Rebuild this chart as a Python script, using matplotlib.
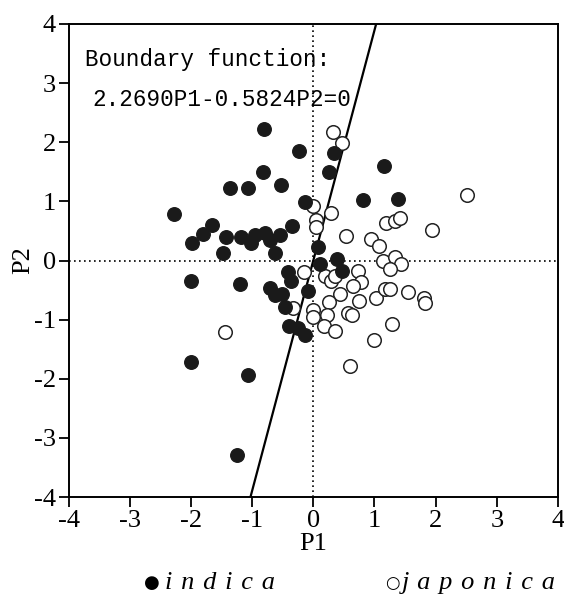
import matplotlib
matplotlib.use("Agg")
import matplotlib.pyplot as plt

# indica (filled) scores
indica_p1 = [-0.80, -0.23, 0.34, -0.83, 0.26, -1.36, -1.07, -0.52, -0.14, -2.28,
             -1.65, -1.81, -1.99, -1.43, -1.18, -1.01, -0.95, -0.79, -0.70, -0.55,
             -0.35, -1.47, -0.63, 0.07, 0.38, 0.11, 0.47, -2.00, -1.20, -0.42,
             -0.36, -0.70, -0.62, -0.51, -0.09, -0.47, -0.39, -0.25, -0.14, -2.00,
             -1.06, -1.25, 1.16, 0.81, 1.38]
indica_p2 = [2.22, 1.86, 1.82, 1.49, 1.50, 1.22, 1.22, 1.28, 0.99, 0.79,
             0.60, 0.44, 0.30, 0.40, 0.40, 0.29, 0.43, 0.47, 0.35, 0.43,
             0.59, 0.13, 0.13, 0.22, 0.02, -0.06, -0.18, -0.35, -0.39, -0.20,
             -0.35, -0.47, -0.58, -0.56, -0.52, -0.79, -1.10, -1.15, -1.26, -1.72,
             -1.94, -3.29, 1.59, 1.02, 1.04]

# japonica (open) scores
japonica_p1 = [0.33, 0.47, 0.00, 0.29, 0.04, 0.04, 0.54, 1.18, 1.33, 1.42,
               2.51, 1.94, 0.94, 1.07, 1.14, 1.34, 1.44, 1.26, -0.16, 0.19,
               0.29, 0.36, 0.73, 0.78, 0.65, 0.44, 0.26, 0.74, 1.03, 1.17,
               1.26, 1.54, 1.81, 1.83, -0.33, 0.00, 0.00, 0.23, 0.17, 0.35,
               0.57, 0.64, 1.29, 0.99, 0.60, -1.44]
japonica_p2 = [2.18, 1.98, 0.93, 0.80, 0.69, 0.56, 0.41, 0.63, 0.67, 0.72,
               1.10, 0.51, 0.36, 0.25, 0.00, 0.06, -0.06, -0.15, -0.19, -0.27,
               -0.34, -0.26, -0.18, -0.36, -0.43, -0.57, -0.70, -0.69, -0.63, -0.48,
               -0.49, -0.54, -0.64, -0.72, -0.81, -0.83, -0.95, -0.92, -1.11, -1.19,
               -0.89, -0.92, -1.07, -1.35, -1.79, -1.21]

# boundary: 2.2690*P1 - 0.5824*P2 = 0
a, b = 2.2690, 0.5824
ticks = [-4, -3, -2, -1, 0, 1, 2, 3, 4]

serif = "Liberation Serif"
mono = "Liberation Mono"

fig = plt.figure(figsize=(5.64, 5.97), dpi=100)
ax = fig.add_axes([0.1215, 0.1675, 0.868, 0.7923])

ax.axhline(0, color="black", lw=1.2, ls=(0, (1, 2)))
ax.axvline(0, color="black", lw=1.2, ls=(0, (1, 2)))

line_p2 = [-4, 4]
line_p1 = [b * v / a for v in line_p2]
ax.plot(line_p1, line_p2, color="black", lw=1.6)

ax.scatter(japonica_p1, japonica_p2, s=95, facecolors="white",
           edgecolors="#222222", linewidths=1.1, zorder=3)
ax.scatter(indica_p1, indica_p2, s=95, color="#1a1a1a", edgecolors="#1a1a1a",
           zorder=4)

ax.set_xlim(-4, 4)
ax.set_ylim(-4, 4)
ax.set_xticks(ticks)
ax.set_yticks(ticks)
ax.set_xticklabels([str(t) for t in ticks], fontfamily=serif, fontsize=19)
ax.set_yticklabels([str(t) for t in ticks], fontfamily=serif, fontsize=19)
ax.tick_params(direction="out", length=7, width=1.3, pad=2)
for s in ax.spines.values():
    s.set_linewidth(1.4)

ax.set_xlabel("P1", fontfamily=serif, fontsize=19, labelpad=1)
ax.set_ylabel("P2", fontfamily=serif, fontsize=19, labelpad=0)

ax.text(0.033, 0.925, "Boundary function:", transform=ax.transAxes,
        fontfamily=mono, fontsize=16.3, va="center")
ax.text(0.048, 0.84, "2.2690P1-0.5824P2=0", transform=ax.transAxes,
        fontfamily=mono, fontsize=16.3, va="center")

# legend below axis, letters spaced out like the original
sp = "\u2004"
fig.text(0.255, 0.023, "\u25cf", fontsize=13, va="center", ha="left")
fig.text(0.292, 0.023, sp.join("indica"), family=[serif, "DejaVu Serif"],
         style="italic", fontsize=19, va="center", ha="left")
fig.text(0.683, 0.023, "\u25cb", fontsize=12, va="center", ha="left")
fig.text(0.712, 0.023, sp.join("japonica"), family=[serif, "DejaVu Serif"],
         style="italic", fontsize=19, va="center", ha="left")

fig.savefig("out.png", dpi=100)
